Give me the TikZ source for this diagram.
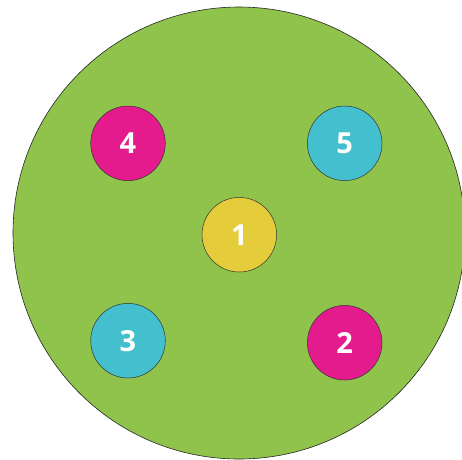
\documentclass[tikz,border=0pt]{standalone}
\usepackage{fontspec}
\setmainfont{Open Sans}
\usepackage{xcolor}
\usetikzlibrary{positioning}

\definecolor{fieldgreen}{HTML}{8FC34C}
\definecolor{ballpink}{HTML}{E31B8C}
\definecolor{ballcyan}{HTML}{43BFCE}
\definecolor{ballyellow}{HTML}{E5CC3A}

\begin{document}
\begin{tikzpicture}[x=1pt, y=-1pt,
        ball/.style={circle, draw=black!80, line width=0.5pt, minimum size=74.6pt,
            inner sep=0pt, text=white, font=\bfseries\fontsize{29}{29}\selectfont}]
        % Fix the page
        \useasboundingbox (0,0) rectangle (462,459);
        \clip (0,0) rectangle (462,459);

        % Draw the field
        \filldraw[fill=fieldgreen, draw=black!85, line width=0.6pt] (239,233) circle (226);

        % Place the balls
        \node[ball, fill=ballyellow] (one) at (239.3,234.7) {1};
        \node[ball, fill=ballpink] (two) at (344.7,342.7) {2};
        \node[ball, fill=ballcyan] (three) at (128,340.7) {3};
        \node[ball, fill=ballpink] (four) at (128,143.3) {4};
        \node[ball, fill=ballcyan] (five) at (344.7,143.3) {5};
    \end{tikzpicture}
\end{document}
